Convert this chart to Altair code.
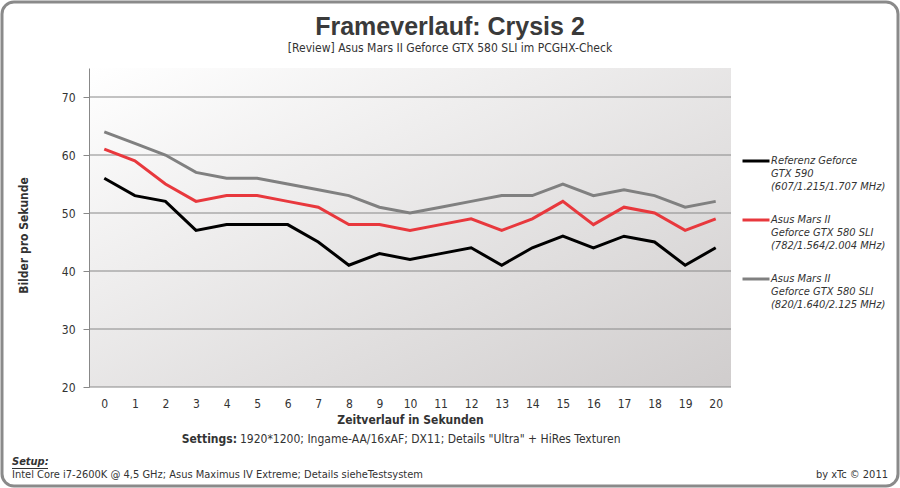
import altair as alt
import pandas as pd

seconds = list(range(21))
series_names = [
    "Referenz Geforce|GTX 590|(607/1.215/1.707 MHz)",
    "Asus Mars II|Geforce GTX 580 SLI|(782/1.564/2.004 MHz)",
    "Asus Mars II|Geforce GTX 580 SLI|(820/1.640/2.125 MHz)",
]
gtx590 = [56, 53, 52, 47, 48, 48, 48, 45, 41, 43, 42, 43, 44, 41, 44, 46, 44, 46, 45, 41, 44]
mars_782 = [61, 59, 55, 52, 53, 53, 52, 51, 48, 48, 47, 48, 49, 47, 49, 52, 48, 51, 50, 47, 49]
mars_820 = [64, 62, 60, 57, 56, 56, 55, 54, 53, 51, 50, 51, 52, 53, 53, 55, 53, 54, 53, 51, 52]
colors = ["#000000", "#e8383d", "#808080"]
y_ticks = [20, 30, 40, 50, 60, 70]

FONT = "'Liberation Sans Narrow', 'DejaVu Sans Condensed', 'Liberation Sans', sans-serif"
TITLE_FONT = "'Liberation Sans', sans-serif"
TXT = "#333333"
W, H = 642, 319
PL, PT = 89, 68

rows = []
for name, vals in zip(series_names, [gtx590, mars_782, mars_820]):
    for s, v in zip(seconds, vals):
        rows.append({"t": s, "fps": v, "series": name})
df = pd.DataFrame(rows)

xscale = alt.Scale(domain=[-0.5, 20.5], nice=False, zero=False)
yscale = alt.Scale(domain=[20, 75], nice=False, zero=False)

one = pd.DataFrame({"a": [0]})

border = alt.Chart(one).mark_rect(
    fill=None, filled=False, stroke="#8a8a8a", strokeWidth=3, cornerRadius=12
).encode(
    x=alt.value(-PL + 2), x2=alt.value(900 - PL - 2),
    y=alt.value(-PT + 2), y2=alt.value(488 - PT - 2),
)

bg = alt.Chart(one).mark_rect(
    fill=alt.Gradient(
        gradient="linear",
        stops=[alt.GradientStop(color="#ffffff", offset=0),
               alt.GradientStop(color="#d0cdcd", offset=1)],
        x1=0, y1=0, x2=1, y2=1,
    )
).encode(x=alt.value(0), x2=alt.value(W), y=alt.value(0), y2=alt.value(H))

grid = alt.Chart(pd.DataFrame({"g": y_ticks})).mark_rule(
    color="#888888", strokeWidth=1
).encode(y=alt.Y("g:Q", scale=yscale), x=alt.value(0), x2=alt.value(W))

lines = alt.Chart(df).mark_line(strokeWidth=3).encode(
    x=alt.X("t:Q", scale=xscale,
            axis=alt.Axis(values=seconds, format="d", grid=False, domain=False, ticks=False,
                          labelPadding=11, labelFontSize=12, labelColor=TXT, labelFont=FONT,
                          title="Zeitverlauf in Sekunden", titleFontSize=12, titleFont=FONT,
                          titleFontWeight="bold", titleColor=TXT, titlePadding=5)),
    y=alt.Y("fps:Q", scale=yscale,
            axis=alt.Axis(values=y_ticks, grid=False, domain=True, domainColor="#888888",
                          ticks=True, tickSize=6, tickColor="#888888", labelPadding=8,
                          labelFontSize=12, labelColor=TXT, labelFont=FONT, zindex=1,
                          title="Bilder pro Sekunde", titleFontSize=12, titleFont=FONT,
                          titleFontWeight="bold", titleColor=TXT, titleX=-66, titleY=167,
                          titleAngle=270, titleBaseline="middle", titleAlign="center")),
    color=alt.Color("series:N",
                    scale=alt.Scale(domain=series_names, range=colors),
                    sort=series_names,
                    legend=alt.Legend(orient="none", legendX=652, legendY=78, title=None,
                                      symbolType="stroke", symbolStrokeWidth=3, symbolSize=729,
                                      labelExpr="split(datum.label, '|')",
                                      labelFontStyle="italic", labelFontSize=11, labelFont=FONT,
                                      labelColor=TXT, labelLimit=300, labelOffset=0,
                                      rowPadding=13)),
)

def txt(s, x, y, align="left", weight="normal", style="normal", size=11, font=FONT,
        color=TXT, baseline="middle"):
    return alt.Chart(pd.DataFrame({"s": [s]})).mark_text(
        align=align, baseline=baseline, font=font, fontSize=size,
        fontWeight=weight, fontStyle=style, color=color,
    ).encode(text="s:N", x=alt.value(x), y=alt.value(y))

title = txt("Frameverlauf: Crysis 2", 450 - PL, 35 - PT, align="center", weight="bold",
            size=25, font=TITLE_FONT, color="#3a3a3a", baseline="alphabetic")
subtitle = txt("[Review] Asus Mars II Geforce GTX 580 SLI im PCGHX-Check", 450 - PL, 52 - PT,
               align="center", size=12, baseline="alphabetic")
settings_b = txt("Settings:", 148, 371, align="right", weight="bold", size=12)
settings_n = txt("1920*1200; Ingame-AA/16xAF; DX11; Details \"Ultra\" + HiRes Texturen", 151, 371, size=12)
setup_b = txt("Setup:", 12 - PL, 462 - PT, weight="bold", style="italic")
setup_ul = alt.Chart(one).mark_rule(color=TXT, strokeWidth=1).encode(
    x=alt.value(12 - PL), x2=alt.value(48 - PL), y=alt.value(468.5 - PT))
setup_n = txt("Intel Core i7-2600K @ 4,5 GHz; Asus Maximus IV Extreme; Details sieheTestsystem", 12 - PL, 475 - PT)
credit = txt("by xTc © 2011", 888 - PL, 475 - PT, align="right")

chart = alt.layer(
    border, bg, grid, lines, title, subtitle, settings_b, settings_n,
    setup_b, setup_ul, setup_n, credit
).properties(
    width=W, height=H,
    padding={"left": PL, "top": PT, "right": 900 - PL - W, "bottom": 488 - PT - H},
    autosize=alt.AutoSizeParams(type="none"),
    background="white",
).configure_view(stroke=None)

chart.save("out.html", embed_options={"renderer": "svg", "actions": False})
